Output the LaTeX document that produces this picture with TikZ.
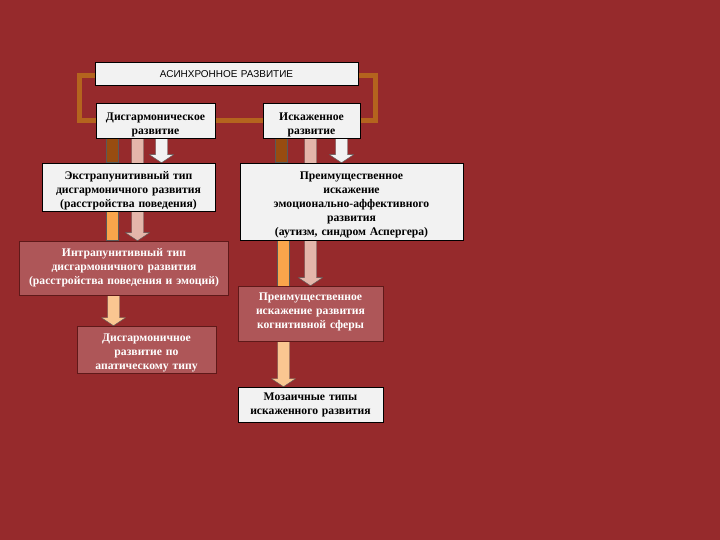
\documentclass[tikz,border=0pt]{standalone}
\usepackage{fontspec}
\setmainfont{Liberation Serif}
\newfontfamily\arialfont{Liberation Sans}
\usetikzlibrary{backgrounds,calc}

\definecolor{fond}{RGB}{150,42,44}
\definecolor{cadre}{RGB}{180,100,30}
\definecolor{brun}{RGB}{152,76,16}
\definecolor{rose}{RGB}{228,182,170}
\definecolor{orangebar}{RGB}{250,165,75}
\definecolor{peche}{RGB}{250,198,145}
\definecolor{blanc}{RGB}{242,242,242}
\definecolor{rougebox}{RGB}{174,86,88}
\definecolor{rougebord}{RGB}{95,25,25}

\tikzset{
boite/.style={draw=black, fill=blanc, line width=0.6bp, align=center,
  inner sep=3bp, font=\bfseries\fontsize{11.7}{14}\selectfont},
boiterouge/.style={boite, fill=rougebox, draw=rougebord, text=white},
ligne/.style={text height=10bp, text depth=#1}
}

% barre simple
\newcommand{\colbar}[4]{%
\path[fill=#1, draw=black!65, line width=0.4bp]
  let \p1=(#3.south), \p2=(#4.north) in
  (#2bp-6bp,\y1) rectangle (#2bp+6bp,\y2);}

% fleche large
\newcommand{\colarrow}[4]{%
\path[fill=#1, draw=black!65, line width=0.4bp]
  let \p1=(#3.south), \p2=(#4.north) in
  (#2bp-6bp,\y1) -- (#2bp+6bp,\y1) -- (#2bp+6bp,\y2+8bp)
  -- (#2bp+12bp,\y2+8bp) -- (#2bp,\y2) -- (#2bp-12bp,\y2+8bp)
  -- (#2bp-6bp,\y2+8bp) -- cycle;}

\begin{document}
\begin{tikzpicture}[x=1bp,y=-1bp]

\useasboundingbox (0,0) rectangle (720,540);

% Titre
\node[boite, font=\arialfont\fontsize{10}{12}\selectfont,
  text width=257bp, minimum height=23bp] (titre) at (226.5,74)
{АСИНХРОННОЕ РАЗВИТИЕ};

\node[boite, ligne=9.6bp, text width=113bp, minimum height=35bp] (dis) at (155.5,120.5)
{Дисгармоническое\\развитие};

\node[boite, ligne=9.6bp, text width=91bp, minimum height=35bp] (isk) at (311.5,120.5)
{Искаженное\\развитие};

% Colonne gauche
\node[boite, ligne=24bp, text width=167bp, minimum height=48bp] (extra) at (128.5,187)
{Экстрапунитивный тип\\дисгармоничного развития\\(расстройства поведения)};

\node[boiterouge, ligne=32.6bp, text width=203bp, minimum height=54bp] (intra) at (124,268)
{Интрапунитивный тип\\дисгармоничного развития\\(расстройства поведения и эмоций)};

\node[boiterouge, ligne=25.6bp, text width=133bp, minimum height=47bp] (apat) at (146.5,349.5)
{Дисгармоничное\\развитие по\\апатическому типу};

% Colonne droite
\node[boite, ligne=53bp, text width=217bp, minimum height=77bp] (emo) at (351.5,201.5)
{Преимущественное\\искажение\\эмоционально-аффективного\\развития\\(аутизм, синдром Аспергера)};

\node[boiterouge, ligne=35.6bp, text width=139bp, minimum height=55bp] (cog) at (310.5,313.5)
{Преимущественное\\искажение развития\\когнитивной сферы};

\node[boite, ligne=17.6bp, text width=139bp, minimum height=35bp] (mos) at (310.5,404.5)
{Мозаичные типы\\искаженного развития};

\begin{scope}[on background layer]

\fill[fond] (0,0) rectangle (720,540);

% Cadre
\coordinate (cadreA) at (79.5,75.5);
\coordinate (cadreB) at (375.5,120.5);
\draw[draw=cadre, line width=5bp] (cadreA) rectangle (cadreB);

\foreach \col/\cx/\de/\vers in {
brun/112.5/dis/extra,
orangebar/112.5/extra/intra,
brun/281/isk/emo,
orangebar/283.5/emo/cog}
{
\colbar{\col}{\cx}{\de}{\vers}
}

\foreach \col/\cx/\de/\vers in {
rose/137.5/dis/intra,
blanc/161.5/dis/extra,
peche/113.5/intra/apat,
rose/310.5/isk/cog,
blanc/341.5/isk/emo,
peche/283.5/cog/mos}
{
\colarrow{\col}{\cx}{\de}{\vers}
}

\end{scope}

\end{tikzpicture}
\end{document}
